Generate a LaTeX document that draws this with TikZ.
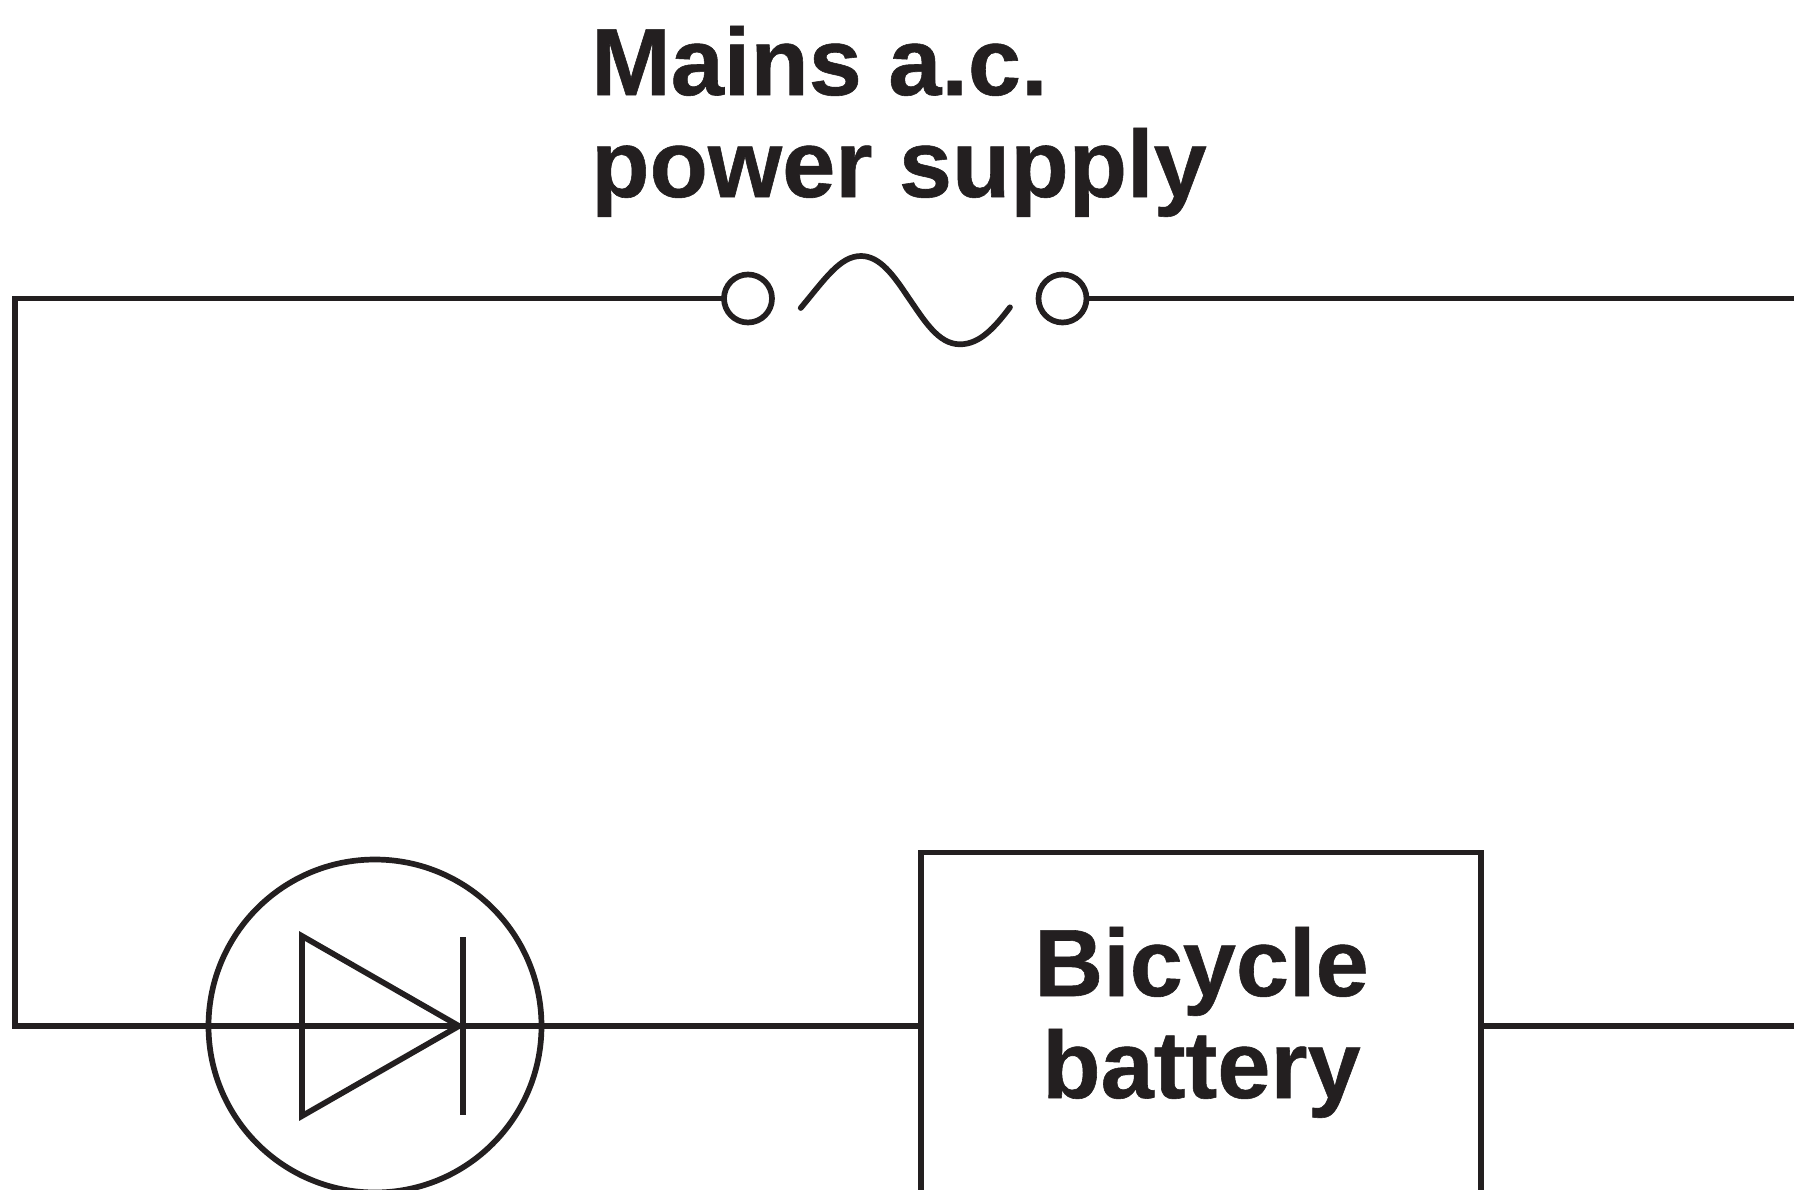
\documentclass[tikz,border=0pt]{standalone}
\usepackage{fontspec}
\setmainfont[BoldFeatures={FakeBold=0.6}]{Liberation Sans}
\definecolor{ink}{HTML}{231F20}
\tikzset{
 wire/.style={draw=ink,line width=5.7pt},
 term/.style={circle,draw=ink,line width=5.7pt,minimum size=48pt,inner sep=0pt,outer sep=0pt},
 ringbox/.style={circle,draw=ink,line width=5.7pt,minimum size=333pt,inner sep=0pt,outer sep=0pt},
 batbox/.style={draw=ink,line width=5.7pt,minimum width=560pt,minimum height=347pt,inner sep=0pt,outer sep=0pt},
 lab/.style={text=ink,font=\fontsize{95.5}{102}\selectfont\bfseries,inner sep=0pt}
}
\begin{document}
\begin{tikzpicture}[x=1pt,y=-1pt,line join=miter]
\useasboundingbox (0,0) rectangle (1794,1189);
\fill[white] (0,0) rectangle (1794,1189);
\coordinate (rt) at (1794,298.5);
\coordinate (tl) at (15,298.5);
\coordinate (bl) at (15,1026);
\coordinate (rb) at (1794,1026);
\node[term] (t1) at (748,298.5) {};
\node[term] (t2) at (1062.5,298.5) {};
\node[ringbox] (led) at (375,1026) {};
\node[batbox] (bat) at (1201,1026) {};
\coordinate (ta) at (302,936);
\coordinate (tb) at (302,1116);
\coordinate (tc) at (459,1026);
\coordinate (ca) at (462.7,937);
\coordinate (cb) at (462.7,1115);
\draw[wire] (t1.west) -- (tl) -- (bl) -- (led.west);
\draw[wire] (t2.east) -- (rt);
\draw[wire] (led.west) -- (led.east);
\draw[wire] (led.east) -- (bat.west);
\draw[wire] (bat.east) -- (rb);
\draw[wire] (ta) -- (tb) -- (tc) -- cycle;
\draw[wire] (ca) -- (cb);
\coordinate (s0) at (800.7,308);
\coordinate (s1) at (861,256);
\coordinate (s2) at (908,297);
\coordinate (s3) at (960,344.3);
\coordinate (s4) at (1010,307.3);
\draw[wire,line cap=round] (s0) .. controls (825,279) and (840,256) .. (s1) .. controls (880,256) and (894,276) .. (s2) .. controls (924,320) and (938,344.3) .. (s3) .. controls (980,344.3) and (995,327) .. (s4);
\node[lab,align=left,anchor=base west] (title) at (591,197) {Mains a.c.\\power supply};
\node[lab,align=center,anchor=base] (batlab) at (1201.5,1098) {Bicycle\\battery};
\end{tikzpicture}
\end{document}
